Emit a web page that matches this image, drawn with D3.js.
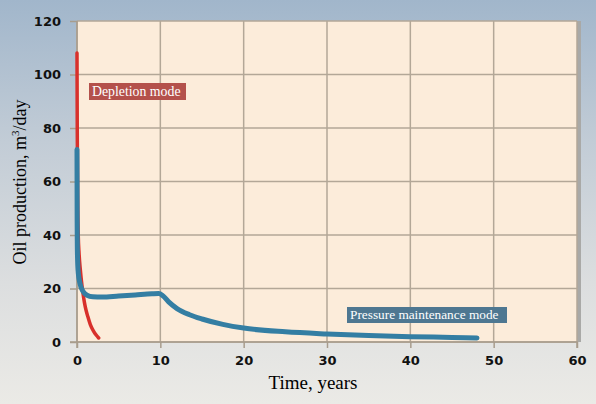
<!DOCTYPE html>
<html>
<head>
<meta charset="utf-8">
<script src="https://cdn.jsdelivr.net/npm/d3@7"></script>
<style>
  body { margin: 0; }
  svg { display: block; }
  .tick text { font-family: 'DejaVu Sans', sans-serif; font-weight: bold; font-size: 13px; fill: #111; }
</style>
</head>
<body>
<div id="chart"></div>
<script>
'use strict';

// tick values
const xTicks = [0, 10, 20, 30, 40, 50, 60];
const yTicks = [0, 20, 40, 60, 80, 100, 120];

// depletion mode curve (years, m3/day)
const depletionT = [0, 0.03, 0.08, 0.15, 0.25, 0.4, 0.6, 0.8, 1.0, 1.3, 1.6, 2.0, 2.3, 2.6];
const depletionQ = [108, 80, 55, 40, 33, 27, 21, 16.5, 13, 9.5, 6.5, 4, 2.6, 1.5];

// pressure maintenance curve
const pressureT = [0, 0.02, 0.06, 0.15, 0.35, 0.7, 1.2, 1.9, 3, 5, 7, 9, 9.8, 10.3, 11, 12, 13.5, 15, 17.5, 20, 25, 30, 35, 40, 45, 48];
const pressureQ = [72, 45, 32, 26, 22, 19, 17.5, 16.9, 16.8, 17.2, 17.6, 18, 18.1, 17.3, 15, 12.5, 10.2, 8.6, 6.6, 5.2, 3.8, 3.0, 2.4, 2.0, 1.7, 1.5];

const width = 596, height = 404;
const margin = {left: 77, right: 19, top: 21, bottom: 62};
const innerW = width - margin.left - margin.right;
const innerH = height - margin.top - margin.bottom;

let svg = d3.select('#chart').append('svg')
    .attr('width', width)
    .attr('height', height);

// page background gradient
let defs = svg.append('defs');
let grad = defs.append('linearGradient')
    .attr('id', 'bg-grad')
    .attr('x1', 0).attr('y1', 0).attr('x2', 0).attr('y2', 1);
grad.append('stop').attr('offset', '0%').attr('stop-color', '#a1b6cb');
grad.append('stop').attr('offset', '35%').attr('stop-color', '#c2ccd6');
grad.append('stop').attr('offset', '70%').attr('stop-color', '#dcdedf');
grad.append('stop').attr('offset', '100%').attr('stop-color', '#ebeae6');

svg.append('rect')
    .attr('width', width)
    .attr('height', height)
    .attr('fill', 'url(#bg-grad)');

let x = d3.scaleLinear().domain([0, 60]).range([0, innerW]);
let y = d3.scaleLinear().domain([0, 120]).range([innerH, 0]);

let g = svg.append('g')
    .attr('transform', 'translate(' + margin.left + ',' + margin.top + ')');

// plot area shadow + fill
g.append('rect')
    .attr('x', 2).attr('y', 0)
    .attr('width', innerW + 2).attr('height', innerH)
    .attr('fill', '#a9a9a7');
g.append('rect')
    .attr('width', innerW)
    .attr('height', innerH)
    .attr('fill', '#fcecda');

// grid lines
g.append('g')
    .selectAll('line.vgrid')
    .data(xTicks)
    .join('line')
    .attr('x1', d => x(d)).attr('x2', d => x(d))
    .attr('y1', 0).attr('y2', innerH)
    .attr('stroke', '#b3a797')
    .attr('stroke-width', 1.5);

g.append('g')
    .selectAll('line.hgrid')
    .data(yTicks)
    .join('line')
    .attr('x1', 0).attr('x2', innerW)
    .attr('y1', d => y(d)).attr('y2', d => y(d))
    .attr('stroke', '#b3a797')
    .attr('stroke-width', 1.5);

// axes
let xAxis = d3.axisBottom(x).tickValues(xTicks).tickSize(6).tickPadding(8);
let yAxis = d3.axisLeft(y).tickValues(yTicks).tickSize(7).tickPadding(9);

let gX = g.append('g')
    .attr('transform', 'translate(0,' + innerH + ')')
    .call(xAxis);
let gY = g.append('g').call(yAxis);

[gX, gY].forEach(a => {
    a.select('.domain').attr('stroke', '#a89c8c').attr('stroke-width', 1.5);
    a.selectAll('.tick line').attr('stroke', '#a89c8c').attr('stroke-width', 1.5);
});
gY.select('.domain').attr('d', 'M-7,' + innerH + 'H0V0');
gX.select('.domain').attr('d', 'M0,6V0H' + innerW + 'V6');

// curves
let line = d3.line()
    .x(d => x(d[0]))
    .y(d => y(d[1]))
    .curve(d3.curveMonotoneX);

let depletion = depletionT.map((t, i) => [t, depletionQ[i]]);
let pressure = pressureT.map((t, i) => [t, pressureQ[i]]);

g.append('path')
    .datum(depletion)
    .attr('d', line)
    .attr('fill', 'none')
    .attr('stroke', '#d8302b')
    .attr('stroke-width', 3.5)
    .attr('stroke-linecap', 'round');

g.append('path')
    .datum(pressure)
    .attr('d', line)
    .attr('fill', 'none')
    .attr('stroke', '#347ea3')
    .attr('stroke-width', 5)
    .attr('stroke-linecap', 'round')
    .attr('stroke-linejoin', 'round');

// mode labels
function addLabel(px, py, w, h, fill, txt, fs) {
    svg.append('rect')
        .attr('x', px).attr('y', py)
        .attr('width', w).attr('height', h)
        .attr('fill', fill);
    svg.append('text')
        .attr('x', px + 3).attr('y', py + h - 4)
        .attr('font-family', 'Liberation Serif, serif')
        .attr('font-size', fs)
        .attr('fill', '#ffffff')
        .text(txt);
}
addLabel(89, 83, 97, 17, '#b4514b', 'Depletion mode', 13.8);
addLabel(347, 307, 160, 16, '#4e7791', 'Pressure maintenance mode', 13.3);

// axis titles
svg.append('text')
    .attr('x', 313)
    .attr('y', 389)
    .attr('text-anchor', 'middle')
    .attr('font-family', 'Liberation Serif, serif')
    .attr('font-size', 19)
    .attr('fill', '#000')
    .text('Time, years');

let yTitle = svg.append('text')
    .attr('transform', 'translate(26,182) rotate(-90)')
    .attr('text-anchor', 'middle')
    .attr('font-family', 'Liberation Serif, serif')
    .attr('font-size', 18)
    .attr('fill', '#000');
yTitle.append('tspan').text('Oil production, m');
yTitle.append('tspan').attr('font-size', 11).attr('dy', -7).text('3');
yTitle.append('tspan').attr('dy', 7).text('/day');
</script>
</body>
</html>
